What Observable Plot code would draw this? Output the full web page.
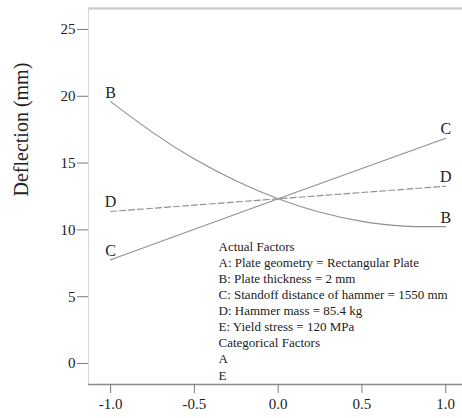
<!DOCTYPE html>
<html>
<head>
<meta charset="utf-8">
<script src="https://cdn.jsdelivr.net/npm/d3@7"></script>
<script src="https://cdn.jsdelivr.net/npm/@observablehq/plot@0.6"></script>
<style>
  html, body { margin: 0; padding: 0; background: #fff; }
  #chart { width: 462px; height: 418px; }
  #chart svg text { font-family: 'Liberation Serif', 'Times New Roman', serif; font-variant: normal; }
</style>
</head>
<body>
<div id="chart"></div>
<script>
// Coded factor levels (x axis)
const xB = [-1, -0.75, -0.5, -0.25, 0, 0.25, 0.5, 0.75, 1];
const yB = [19.6, 17.3, 15.3, 13.66, 12.33, 11.32, 10.64, 10.28, 10.25];
const xC = [-1, -0.5, 0, 0.5, 1];
const yC = [7.76, 10.05, 12.33, 14.6, 16.86];
const xD = [-1, 0, 1];
const yD = [11.38, 12.33, 13.27];

const xTicks = [-1, -0.5, 0, 0.5, 1];
const yTicks = [0, 5, 10, 15, 20, 25];
const xDomain = [-1.132, 1.10];
const yDomain = [-1.57, 26.57];

const annotationLines = [
  "Actual Factors",
  "A: Plate geometry = Rectangular Plate",
  "B: Plate thickness = 2 mm",
  "C: Standoff distance of hammer = 1550 mm",
  "D: Hammer mass = 85.4 kg",
  "E: Yield stress = 120 MPa",
  "Categorical Factors",
  "A",
  "E"
];

const yLabel = "Deflection (mm)";

const series = [
  {name: "B", xs: xB, ys: yB},
  {name: "C", xs: xC, ys: yC},
  {name: "D", xs: xD, ys: yD}
];

const lineData = series.flatMap(s => s.xs.map((x, i) => ({series: s.name, x, y: s.ys[i]})));
const endLabels = series.flatMap(s => [
  {series: s.name, x: s.xs[0], y: s.ys[0], anchor: "start"},
  {series: s.name, x: s.xs[s.xs.length - 1], y: s.ys[s.ys.length - 1], anchor: "end"}
]);

const lineColor = "#909090";
const serif = "'Liberation Serif', 'Times New Roman', serif";

const chart = Plot.plot({
  width: 462,
  height: 418,
  marginLeft: 88,
  marginRight: 0,
  marginTop: 8,
  marginBottom: 34,
  style: {fontFamily: serif, background: "#fff", color: "#222"},
  x: {domain: xDomain},
  y: {domain: yDomain},
  marks: [
    // frame lines
    Plot.ruleY([yDomain[1]], {stroke: "#cfcfcf", strokeWidth: 2.5}),
    Plot.ruleX([xDomain[0]], {stroke: "#d6d6d6", strokeWidth: 1.2}),
    Plot.ruleY([yDomain[0]], {stroke: "#8c8c8c", strokeWidth: 1.5}),
    Plot.axisY(yTicks, {
      tickSize: 11, tickPadding: 2, fontSize: 15, stroke: "#7a7a7a", fontFamily: serif,
      label: null, tickFormat: d => String(d)
    }),
    Plot.axisX(xTicks, {
      tickSize: 9, tickPadding: 5, fontSize: 15, stroke: "#7a7a7a", fontFamily: serif,
      label: null, tickFormat: d => d.toFixed(1)
    }),
    Plot.text([yLabel], {
      frameAnchor: "left", rotate: -90, dx: -67, fontSize: 20, fill: "#222", fontFamily: serif
    }),
    // the lines
    Plot.line(lineData.filter(d => d.series === "B"), {x: "x", y: "y", stroke: lineColor, strokeWidth: 1.15, curve: "natural"}),
    Plot.line(lineData.filter(d => d.series === "C"), {x: "x", y: "y", stroke: lineColor, strokeWidth: 1.15, curve: "natural"}),
    Plot.line(lineData.filter(d => d.series === "D"), {x: "x", y: "y", stroke: lineColor, strokeWidth: 1.15, strokeDasharray: "6,3"}),
    Plot.text(endLabels, {
      x: "x", y: "y", text: "series", textAnchor: d => d.anchor,
      lineAnchor: "bottom", dy: -4, fontSize: 16, fill: "#222", fontFamily: serif
    }),
    Plot.text([annotationLines.join("\n")], {
      frameAnchor: "bottom-left", dx: 130, dy: -5,
      textAnchor: "start", lineAnchor: "bottom", lineHeight: 1.24,
      fontSize: 13, fill: "#222", fontFamily: serif
    })
  ]
});

document.getElementById("chart").appendChild(chart);
</script>
</body>
</html>
